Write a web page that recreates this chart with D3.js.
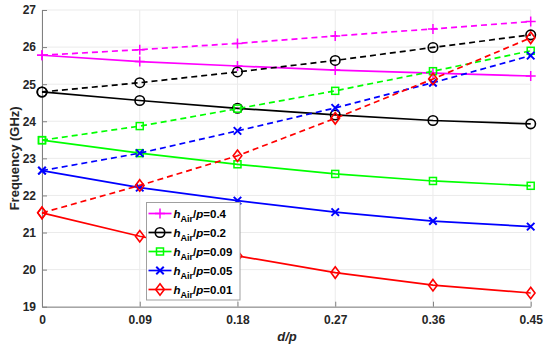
<!DOCTYPE html>
<html><head><meta charset="utf-8">
<script src="https://cdn.jsdelivr.net/npm/d3@7"></script>
<style>body{margin:0;background:#fff}text{font-family:"Liberation Sans",Arial,sans-serif;font-weight:bold}</style>
</head><body><svg id="c" width="550" height="349"></svg>
<script>
const xValues = [0, 0.09, 0.18, 0.27, 0.36, 0.45];
const xTicks = [0, 0.09, 0.18, 0.27, 0.36, 0.45];
const yTicks = [19, 20, 21, 22, 23, 24, 25, 26, 27];
const seriesLabels = ["0.4", "0.2", "0.09", "0.05", "0.01"];
const solid04 = [25.78, 25.61, 25.49, 25.38, 25.30, 25.22];
const dashed04 = [25.78, 25.93, 26.10, 26.30, 26.49, 26.69];
const solid02 = [24.79, 24.56, 24.35, 24.17, 24.02, 23.93];
const dashed02 = [24.79, 25.04, 25.33, 25.64, 25.99, 26.33];
const solid009 = [23.49, 23.14, 22.84, 22.58, 22.39, 22.26];
const dashed009 = [23.49, 23.87, 24.34, 24.82, 25.35, 25.90];
const solid005 = [22.67, 22.21, 21.86, 21.55, 21.31, 21.16];
const dashed005 = [22.67, 23.14, 23.74, 24.36, 25.04, 25.77];
const solid001 = [21.53, 20.90, 20.37, 19.92, 19.58, 19.37];
const dashed001 = [21.53, 22.27, 23.07, 24.08, 25.14, 26.25];

const series = [
  {label: seriesLabels[0], color: "#ff00ff", marker: "plus", solid: solid04, dashed: dashed04},
  {label: seriesLabels[1], color: "#000000", marker: "circle", solid: solid02, dashed: dashed02},
  {label: seriesLabels[2], color: "#00ff00", marker: "square", solid: solid009, dashed: dashed009},
  {label: seriesLabels[3], color: "#0000ff", marker: "x", solid: solid005, dashed: dashed005},
  {label: seriesLabels[4], color: "#ff0000", marker: "diamond", solid: solid001, dashed: dashed001}
];

const svg = d3.select("#c");
const L = 42, R = 530.7, T = 10, B = 306.7;
const x = d3.scaleLinear().domain([0, 0.45]).range([L, R]);
const y = d3.scaleLinear().domain([19, 27]).range([B, T]);

// grid
const g = svg.append("g");
g.selectAll(".gx").data(xTicks).enter().append("line")
  .attr("x1", d => x(d)).attr("x2", d => x(d)).attr("y1", T).attr("y2", B)
  .attr("stroke", "#ebebeb").attr("stroke-width", 1);
g.selectAll(".gy").data(yTicks).enter().append("line")
  .attr("x1", L).attr("x2", R).attr("y1", d => y(d)).attr("y2", d => y(d))
  .attr("stroke", "#ebebeb").attr("stroke-width", 1);

// axes
const xAxis = d3.axisBottom(x).tickValues(xTicks).tickSizeInner(-5).tickSizeOuter(0).tickPadding(9)
  .tickFormat(d => d === 0 ? "0" : d3.format(".2f")(d));
const yAxis = d3.axisLeft(y).tickValues(yTicks).tickSizeInner(-5).tickSizeOuter(0).tickPadding(6);
const gx = svg.append("g").attr("transform", `translate(0,${B})`).call(xAxis);
const gy = svg.append("g").attr("transform", `translate(${L},0)`).call(yAxis);
[gx, gy].forEach(a => {
  a.selectAll("path,line").attr("stroke", "#808080");
  a.selectAll("text").attr("fill", "#262626").style("font-size", "12px").style("font-weight", "bold").style("font-family", "Liberation Sans, Arial, sans-serif");
});

// labels
svg.append("text").attr("x", 287).attr("y", 341).attr("text-anchor", "middle")
  .style("font-size", "13px").style("font-style", "italic").attr("fill", "#262626").text("d/p");
svg.append("text").attr("transform", `translate(19,${(T+B)/2}) rotate(-90)`).attr("text-anchor", "middle")
  .style("font-size", "13px").attr("fill", "#262626").text("Frequency (GHz)");

function drawMarker(sel, type, color, size) {
  const s = size;
  if (type === "plus") {
    sel.append("path").attr("d", `M${-s},0H${s}M0,${-s}V${s}`).attr("stroke", color).attr("stroke-width", 1.5).attr("fill", "none");
  } else if (type === "x") {
    const k = s * 0.75;
    sel.append("path").attr("d", `M${-k},${-k}L${k},${k}M${-k},${k}L${k},${-k}`).attr("stroke", color).attr("stroke-width", 2).attr("fill", "none");
  } else if (type === "circle") {
    sel.append("circle").attr("r", s * 0.95).attr("stroke", color).attr("stroke-width", 1.6).attr("fill", "none");
  } else if (type === "square") {
    const k = s * 0.7;
    sel.append("rect").attr("x", -k).attr("y", -k).attr("width", 2 * k).attr("height", 2 * k).attr("stroke", color).attr("stroke-width", 1.5).attr("fill", "none");
  } else if (type === "diamond") {
    const k = s * 1.15;
    sel.append("path").attr("d", `M0,${-k}L${k*0.75},0L0,${k}L${-k*0.75},0Z`).attr("stroke", color).attr("stroke-width", 1.6).attr("fill", "none");
  }
}

const line = d3.line().x((d, i) => x(xValues[i])).y(d => y(d));
const plot = svg.append("g");
series.forEach(s => {
  plot.append("path").attr("d", line(s.dashed)).attr("stroke", s.color).attr("stroke-width", 1.7)
    .attr("fill", "none").attr("stroke-dasharray", "6,4");
  plot.append("path").attr("d", line(s.solid)).attr("stroke", s.color).attr("stroke-width", 1.7).attr("fill", "none");
  [s.solid, s.dashed].forEach(arr => {
    arr.forEach((v, i) => {
      const m = plot.append("g").attr("transform", `translate(${x(xValues[i])},${y(v)})`);
      drawMarker(m, s.marker, s.color, 5);
    });
  });
});

// legend
const lg = svg.append("g").attr("transform", "translate(146.5,202.5)");
lg.append("rect").attr("width", 93.5).attr("height", 97.5).attr("fill", "#fff").attr("stroke", "#a0a0a0").attr("stroke-width", 1);
series.forEach((s, i) => {
  const yy = 11 + i * 19;
  const row = lg.append("g").attr("transform", `translate(0,${yy})`);
  row.append("line").attr("x1", 2).attr("x2", 25).attr("y1", 0).attr("y2", 0).attr("stroke", s.color).attr("stroke-width", 1.7);
  const m = row.append("g").attr("transform", "translate(13.5,0)");
  drawMarker(m, s.marker, s.color, 5);
  const t = row.append("text").attr("x", 27).attr("y", 4).style("font-size", "11.5px").attr("fill", "#000");
  t.append("tspan").style("font-style", "italic").text("h");
  t.append("tspan").attr("dy", 4).style("font-size", "9px").text("Air");
  t.append("tspan").attr("dy", -4).text("/");
  t.append("tspan").style("font-style", "italic").text("p");
  t.append("tspan").text("=" + s.label);
});
</script></body></html>
